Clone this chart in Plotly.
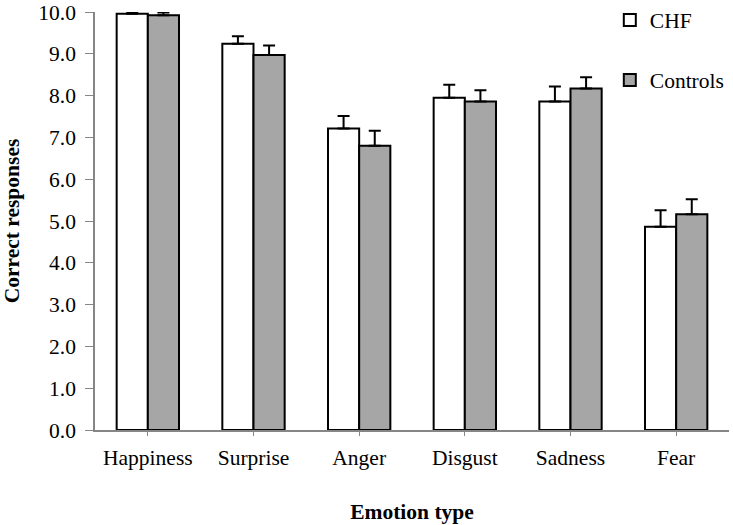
import plotly.graph_objects as go

categories = ["Happiness", "Surprise", "Anger", "Disgust", "Sadness", "Fear"]
chf_values = [9.96, 9.24, 7.21, 7.95, 7.86, 4.86]
chf_errors = [0.03, 0.18, 0.30, 0.31, 0.36, 0.40]
ctrl_values = [9.92, 8.97, 6.80, 7.86, 8.17, 5.16]
ctrl_errors = [0.07, 0.23, 0.36, 0.27, 0.27, 0.36]
y_ticks = [0, 1, 2, 3, 4, 5, 6, 7, 8, 9, 10]

FONT = "Liberation Serif, Times New Roman, serif"
FS = 21.5
AXIS_GREY = "#868686"

fig = go.Figure()
fig.add_trace(go.Bar(
    name="CHF", x=categories, y=chf_values, legendgroup="a",
    marker=dict(color="white", line=dict(color="black", width=2)),
    error_y=dict(type="data", array=chf_errors, arrayminus=[0] * len(chf_errors),
                 symmetric=False, color="black", thickness=2, width=6),
))
fig.add_trace(go.Bar(
    name="Controls", x=categories, y=ctrl_values, legendgroup="b",
    marker=dict(color="#A6A6A6", line=dict(color="black", width=2)),
    error_y=dict(type="data", array=ctrl_errors, arrayminus=[0] * len(ctrl_errors),
                 symmetric=False, color="black", thickness=2, width=6),
))

fig.update_layout(
    width=733, height=525,
    margin=dict(l=95, r=4, t=12, b=95, autoexpand=False),
    paper_bgcolor="white", plot_bgcolor="white",
    font=dict(family=FONT, size=FS, color="black"),
    barmode="group", bargap=0.41, bargroupgap=0,
    showlegend=True,
    legend=dict(x=0.812, y=1.03, xanchor="left", yanchor="top",
                xref="paper", yref="paper", bgcolor="rgba(0,0,0,0)",
                tracegroupgap=29, font=dict(family=FONT, size=FS)),
    xaxis=dict(
        showline=True, linecolor=AXIS_GREY, linewidth=1.5,
        ticks="outside", ticklen=4, tickcolor=AXIS_GREY, tickwidth=1,
        ticklabelstandoff=3,
        showgrid=False, automargin=False,
        title=dict(text="<b>Emotion type</b>", standoff=35,
                   font=dict(family=FONT, size=FS)),
    ),
    yaxis=dict(
        range=[0, 10], tickvals=y_ticks, tickformat=".1f",
        showline=True, linecolor=AXIS_GREY, linewidth=1.5,
        ticks="outside", ticklen=8, tickcolor=AXIS_GREY, tickwidth=1,
        ticklabelstandoff=5,
        showgrid=False, zeroline=False, automargin=False,
        ticklabeloverflow="allow",
        title=dict(text="<b>Correct responses</b>", standoff=13,
                   font=dict(family=FONT, size=FS)),
    ),
)

# remove the page's default 8px body margin so the figure fills the window
fig.write_html("out.html", config={"displayModeBar": False},
               post_script="document.body.style.margin='0';")
